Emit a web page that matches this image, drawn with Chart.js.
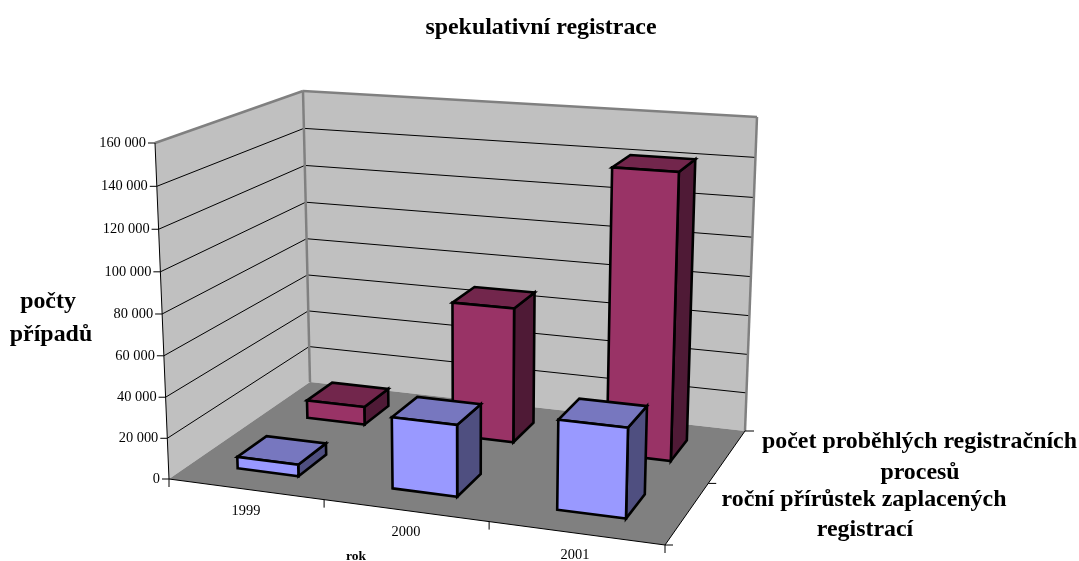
<!DOCTYPE html>
<html>
<head>
<meta charset="utf-8">
<style>html,body{margin:0;padding:0;background:#fff}canvas{display:block}</style>
<script src="https://cdn.jsdelivr.net/npm/chart.js@4"></script>
</head>
<body>
<canvas id="c" width="1079" height="561"></canvas>
<script>
const chartTitle = "spekulativní registrace";
const categories = ["1999", "2000", "2001"];
const paidGrowth = [5700, 34500, 42500];
const processes = [9300, 68500, 142000];
const paidName = ["roční přírůstek zaplacených", "registrací"];
const processName = ["počet proběhlých registračních", "procesů"];
const yTitleLines = ["počty", "případů"];
const xTitle = "rok";

const FONT = '"Liberation Serif"';
// Picture-plane corners of the chart box and perspective weights.
const box = {
  c000:[169,479], c100:[665,545], c010:[155,143], c110:[675,182],
  c001:[310,382], c101:[745,431], c011:[303,91],  c111:[757,117]
};
const persp = {x:-0.09, y:-0.035, z:0.16};
function project(x,y,z){
  let sx=0, sy=0, sw=0;
  for (const i of [0,1]) for (const j of [0,1]) for (const k of [0,1]) {
    const b=(i?x:1-x)*(j?y:1-y)*(k?z:1-z);
    const w=1+persp.x*i+persp.y*j+persp.z*k;
    const p=box['c'+i+j+k];
    sx+=b*w*p[0]; sy+=b*w*p[1]; sw+=b*w;
  }
  return [sx/sw, sy/sw];
}
function poly(ctx, pts, fill, stroke, lw){
  ctx.beginPath();
  pts.forEach((p,i)=> i?ctx.lineTo(p[0],p[1]):ctx.moveTo(p[0],p[1]));
  ctx.closePath();
  if (fill){ctx.fillStyle=fill;ctx.fill();}
  if (stroke){ctx.strokeStyle=stroke;ctx.lineWidth=lw;ctx.lineJoin='miter';ctx.stroke();}
}
function seg(ctx,a,b,color,lw){
  ctx.beginPath();ctx.moveTo(a[0],a[1]);ctx.lineTo(b[0],b[1]);
  ctx.strokeStyle=color;ctx.lineWidth=lw;ctx.stroke();
}
function label(ctx,text,x,y,font,align){
  ctx.font=font;ctx.fillStyle='#000';ctx.textAlign=align||'center';ctx.textBaseline='middle';
  ctx.fillText(text,x,y);
}
const depthRows = [0.25, 0.75];
const depthHalf = 0.1;

const scene3d = {
  id:'scene3d',
  beforeDatasetsDraw(chart){
    const ctx=chart.ctx, xs=chart.scales.x, ys=chart.scales.y;
    const yN=v=>(ys.bottom-ys.getPixelForValue(v))/(ys.bottom-ys.top);
    const xN=px=>(px-xs.left)/(xs.right-xs.left);
    ctx.save();
    // walls and floor
    poly(ctx,[project(0,0,0),project(0,1,0),project(0,1,1),project(0,0,1)],'#C0C0C0');
    poly(ctx,[project(0,0,1),project(0,1,1),project(1,1,1),project(1,0,1)],'#C0C0C0');
    poly(ctx,[project(0,0,0),project(1,0,0),project(1,0,1),project(0,0,1)],'#808080');
    // gridlines
    ys.ticks.forEach(t=>{
      const n=yN(t.value);
      if(n<=0||n>=1) return;
      seg(ctx,project(0,n,0),project(0,n,1),'#000',1);
      seg(ctx,project(0,n,1),project(1,n,1),'#000',1);
    });
    // wall frame
    const g='#808080';
    seg(ctx,project(0,1,0),project(0,1,1),g,2.5);
    seg(ctx,project(0,1,1),project(1,1,1),g,2.5);
    seg(ctx,project(0,0,1),project(0,1,1),g,2.5);
    seg(ctx,project(1,0,1),project(1,1,1),g,2.5);
    // axes
    seg(ctx,project(0,0,0),project(0,1,0),'#000',1);
    seg(ctx,project(0,0,0),project(1,0,0),'#000',1);
    seg(ctx,project(1,0,0),project(1,0,1),'#000',1);
    // y ticks and labels
    ys.ticks.forEach(t=>{
      const p=project(0,yN(t.value),0);
      seg(ctx,[p[0]-7,p[1]],p,'#000',1);
      label(ctx,t.label,p[0]-9,p[1],'14.4px '+FONT,'right');
    });
    // x ticks
    const n=categories.length;
    for(let i=0;i<=n;i++){
      const p=project(i/n,0,0);
      seg(ctx,p,[p[0],p[1]+8],'#000',1);
    }
    // z ticks
    const zm=project(1,0,0.5), zb=project(1,0,1), zf=project(1,0,0);
    seg(ctx,zm,[zm[0]+8,zm[1]],'#000',1);
    seg(ctx,zb,[zb[0]+9,zb[1]],'#000',1);
    seg(ctx,zf,[zf[0]+8,zf[1]],'#000',1);
    // bars: back row first
    const order=[1,0];
    order.forEach(d=>{
      const ds=chart.data.datasets[d], meta=chart.getDatasetMeta(d);
      const z0=depthRows[d]-depthHalf, z1=depthRows[d]+depthHalf;
      meta.data.forEach(el=>{
        const x0=xN(el.x-el.width/2), x1=xN(el.x+el.width/2);
        const h=(ys.bottom-el.y)/(ys.bottom-ys.top);
        const FL=project(x0,0,z0),FR=project(x1,0,z0),BR=project(x1,0,z1);
        const TFL=project(x0,h,z0),TFR=project(x1,h,z0),TBR=project(x1,h,z1),TBL=project(x0,h,z1);
        poly(ctx,[FR,BR,TBR,TFR],ds.sideColor,'#000',2.6);
        poly(ctx,[TFL,TFR,TBR,TBL],ds.topColor,'#000',2.6);
        poly(ctx,[FL,FR,TFR,TFL],ds.backgroundColor,'#000',2.6);
      });
    });
    // texts
    const tf='14.4px '+FONT;
    const catPos=[[246,511],[406,532],[575,555]];
    categories.forEach((c,i)=>label(ctx,c,catPos[i][0],catPos[i][1],tf));
    label(ctx,xTitle,356,557,'bold 13.5px '+FONT);
    const bf='bold 23.9px '+FONT;
    label(ctx,yTitleLines[0],48,302,bf);
    label(ctx,yTitleLines[1],51,335,bf);
    label(ctx,processName[0],919.5,442,bf);
    label(ctx,processName[1],920,473,bf);
    label(ctx,paidName[0],864,500,bf);
    label(ctx,paidName[1],865,530,bf);
    ctx.restore();
    return false;
  }
};

new Chart(document.getElementById('c'),{
  type:'bar',
  data:{
    labels:categories,
    datasets:[
      {label:paidName.join(' '),data:paidGrowth,backgroundColor:'#9999FF',topColor:'#7777BF',sideColor:'#4F4F80',
       grouped:false,barPercentage:0.4,categoryPercentage:1},
      {label:processName.join(' '),data:processes,backgroundColor:'#993366',topColor:'#72264C',sideColor:'#4F1A36',
       grouped:false,barPercentage:0.4,categoryPercentage:1}
    ]
  },
  options:{
    responsive:false,
    animation:false,
    events:[],
    layout:{padding:{left:3}},
    plugins:{
      legend:{display:false},
      tooltip:{enabled:false},
      title:{display:true,text:chartTitle,color:'#000',font:{family:FONT,size:23.9,weight:'bold'},padding:{top:13,bottom:10}}
    },
    scales:{
      x:{display:false,type:'category'},
      y:{display:false,type:'linear',min:0,max:160000,
         ticks:{stepSize:20000,callback:v=>String(v).replace(/\B(?=(\d{3})+$)/g,' ')}}
    }
  },
  plugins:[scene3d]
});
</script>
</body>
</html>
